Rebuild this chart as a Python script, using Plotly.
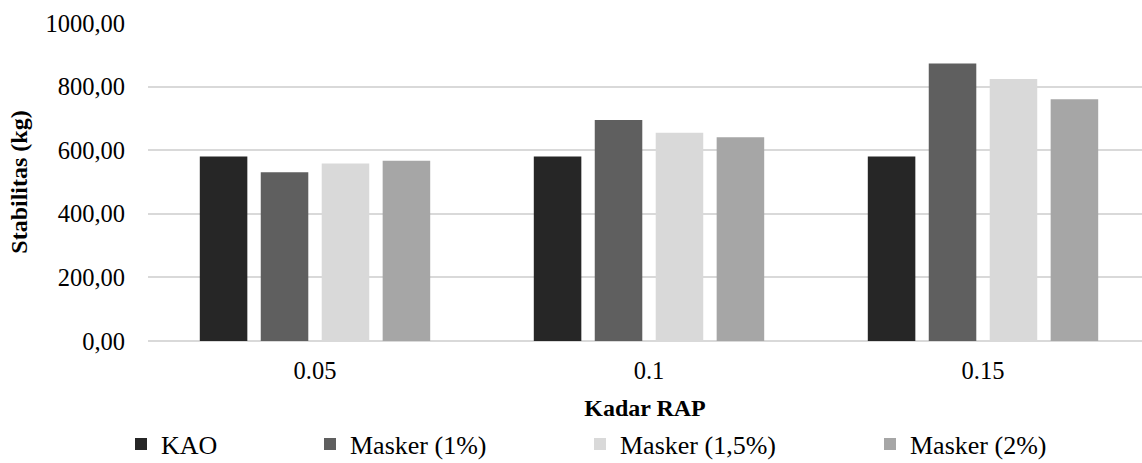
import plotly.graph_objects as go

# Kadar RAP categories and Marshall stability (kg) per mix
kadar_rap = ["0.05", "0.1", "0.15"]
kao = [580, 580, 580]
masker_1 = [531, 695, 873]
masker_1_5 = [558, 655, 824]
masker_2 = [567, 641, 760]

series = [
    ("KAO", kao, "#262626"),
    ("Masker (1%)", masker_1, "#5f5f5f"),
    ("Masker (1,5%)", masker_1_5, "#d9d9d9"),
    ("Masker (2%)", masker_2, "#a6a6a6"),
]

FONT = "Liberation Serif, Times New Roman, serif"
W, H = 1142, 463
ML, MR, MT, MB = 148, 0, 23, 122
plot_w = W - ML - MR

# legend left edges in pixels, one legend per series
legend_px = [121, 310, 580, 870]
legend_names = ["legend", "legend2", "legend3", "legend4"]

fig = go.Figure()
for (name, vals, color), lg in zip(series, legend_names):
    fig.add_trace(go.Bar(
        x=kadar_rap, y=vals, name=name,
        marker=dict(color=color, line=dict(width=0)),
        legend=lg,
    ))

layout_legends = {}
for lg, px in zip(legend_names, legend_px):
    layout_legends[lg] = dict(
        x=(px - ML) / plot_w, y=(MT + 318 - 444) / 318,
        xanchor="left", yanchor="middle",
        orientation="h", bgcolor="rgba(0,0,0,0)",
        font=dict(family=FONT, size=26, color="#000000"),
        itemwidth=30,
    )

fig.update_layout(
    width=W, height=H,
    margin=dict(l=ML, r=MR, t=MT, b=MB, autoexpand=False),
    paper_bgcolor="white", plot_bgcolor="white",
    barmode="group", bargap=0.27, bargroupgap=0.22,
    separators=",.",
    showlegend=True,
    font=dict(family=FONT, size=24, color="#000000"),
    **layout_legends,
)

fig.update_xaxes(
    type="category", range=[-0.5, -0.5 + plot_w / 334],
    showgrid=False, showline=False, zeroline=False,
    ticks="", ticklabelstandoff=12,
    tickfont=dict(family=FONT, size=24.5, color="#000000"),
    title=dict(text="<b>Kadar RAP</b>", standoff=16,
               font=dict(family=FONT, size=24, color="#000000")),
)

fig.update_yaxes(
    range=[0, 1000], dtick=200, tickformat=".2f",
    showgrid=True, gridcolor="#d9d9d9", gridwidth=1.5,
    zeroline=True, zerolinecolor="#d9d9d9", zerolinewidth=2,
    showline=False, ticks="", ticklabelstandoff=22,
    tickfont=dict(family=FONT, size=24.5, color="#000000"),
    title=dict(text="<b>Stabilitas (kg)</b>", standoff=10,
               font=dict(family=FONT, size=24, color="#000000")),
)

fig.write_html("out.html")
